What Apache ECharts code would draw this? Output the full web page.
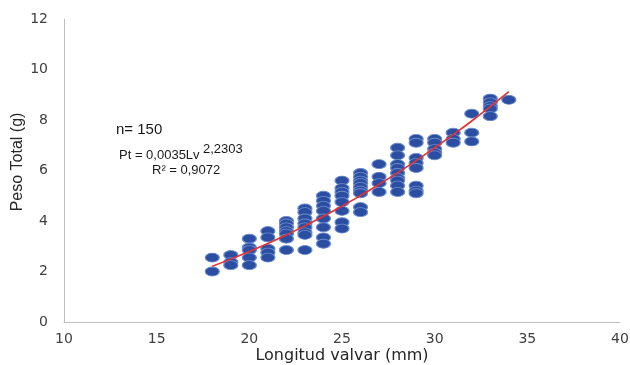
<!DOCTYPE html>
<html>
<head>
<meta charset="utf-8">
<script src="https://cdn.jsdelivr.net/npm/echarts@6/dist/echarts.min.js"></script>
<style>
  html, body { margin: 0; padding: 0; background: #fff; }
  #chart { width: 630px; height: 365px; }
</style>
</head>
<body>
<div id="chart"></div>
<script>
// longitud valvar (mm) of each column, and peso total (g) read per column
const lengths = [18, 19, 20, 21, 22, 23, 24, 25, 26, 27, 28, 29, 30, 31, 32, 33, 34];
const weights = [
  [2.55, 2.0],
  [2.65, 2.37, 2.25],
  [3.3, 2.95, 2.85, 2.55, 2.25],
  [3.6, 3.35, 2.9, 2.75, 2.55],
  [4.0, 3.9, 3.75, 3.6, 3.5, 3.3, 2.85],
  [4.5, 4.35, 4.1, 3.9, 3.75, 3.55, 3.45, 2.85],
  [5.0, 4.8, 4.6, 4.4, 4.1, 3.75, 3.35, 3.1],
  [5.6, 5.3, 5.15, 5.0, 4.75, 4.4, 3.95, 3.7],
  [5.9, 5.75, 5.6, 5.5, 5.35, 5.2, 5.1, 4.55, 4.35],
  [6.25, 5.75, 5.5, 5.15],
  [6.9, 6.6, 6.25, 6.1, 5.9, 5.7, 5.6, 5.4, 5.15],
  [7.25, 7.1, 6.5, 6.3, 6.1, 5.4, 5.2, 5.1],
  [7.25, 7.1, 6.85, 6.7, 6.6],
  [7.5, 7.25, 7.1],
  [8.25, 7.5, 7.15],
  [8.85, 8.7, 8.55, 8.45, 8.15],
  [8.8]
];
// fitted curve as drawn (Pt = 0,0035 Lv^2,2303)
const trend = [2.21, 2.49, 2.79, 3.11, 3.45, 3.81, 4.19, 4.59, 5.01, 5.45, 5.91, 6.39, 6.9, 7.42, 7.96, 8.53, 9.12];
const xTicks = [10, 15, 20, 25, 30, 35, 40];
const yTicks = [0, 2, 4, 6, 8, 10, 12];

const points = [];
lengths.forEach((lv, i) => {
  weights[i].forEach(pt => points.push([lv, pt]));
});
const trendLine = lengths.map((lv, i) => [lv, trend[i]]);

const chart = echarts.init(document.getElementById("chart"));
const tickFont = { color: "#404040", fontSize: 14, fontFamily: "DejaVu Sans" };
const noteFont = { fontFamily: "Liberation Sans", fill: "#1a1a1a" };

chart.setOption({
  animation: false,
  grid: { left: 64, right: 10, top: 19, bottom: 43, containLabel: false, outerBoundsMode: "none" },
  xAxis: {
    type: "value",
    min: xTicks[0],
    max: xTicks[xTicks.length - 1],
    interval: 5,
    name: "Longitud valvar (mm)",
    nameLocation: "middle",
    nameGap: 26,
    nameMoveOverlap: false,
    nameTextStyle: { color: "#262626", fontSize: 16, fontFamily: "DejaVu Sans" },
    axisLine: { lineStyle: { color: "#bfbfbf" } },
    axisTick: { show: false },
    splitLine: { show: false },
    axisLabel: Object.assign({ margin: 10 }, tickFont)
  },
  yAxis: {
    type: "value",
    min: yTicks[0],
    max: yTicks[yTicks.length - 1],
    interval: 2,
    axisLine: { show: true, lineStyle: { color: "#bfbfbf" } },
    axisTick: { show: false },
    splitLine: { show: false },
    axisLabel: Object.assign({ margin: 16 }, tickFont)
  },
  graphic: [
    {
      type: "text", x: 18, y: 162, rotation: Math.PI / 2,
      style: { text: "Peso Total (g)", fontSize: 16, fontFamily: "Liberation Sans", fill: "#262626",
               align: "center", verticalAlign: "middle" }
    },
    {
      type: "text", left: 116, top: 122,
      style: Object.assign({ text: "n= 150", fontSize: 15 }, noteFont)
    },
    {
      type: "text", left: 119, top: 149,
      style: Object.assign({ text: "Pt = 0,0035Lv", fontSize: 13 }, noteFont)
    },
    {
      type: "text", left: 203, top: 143,
      style: Object.assign({ text: "2,2303", fontSize: 13 }, noteFont)
    },
    {
      type: "text", left: 152, top: 164,
      style: Object.assign({ text: "R² = 0,9072", fontSize: 13 }, noteFont)
    }
  ],
  series: [
    {
      type: "scatter",
      data: points,
      symbol: "circle",
      symbolSize: [14, 9],
      itemStyle: { color: "#2b4ea3", borderColor: "#6b8ccb", borderWidth: 1, opacity: 1 },
      z: 2
    },
    {
      type: "line",
      data: trendLine,
      smooth: true,
      symbol: "none",
      lineStyle: { color: "#e8302f", width: 1.6 },
      z: 3
    }
  ]
});
</script>
</body>
</html>
